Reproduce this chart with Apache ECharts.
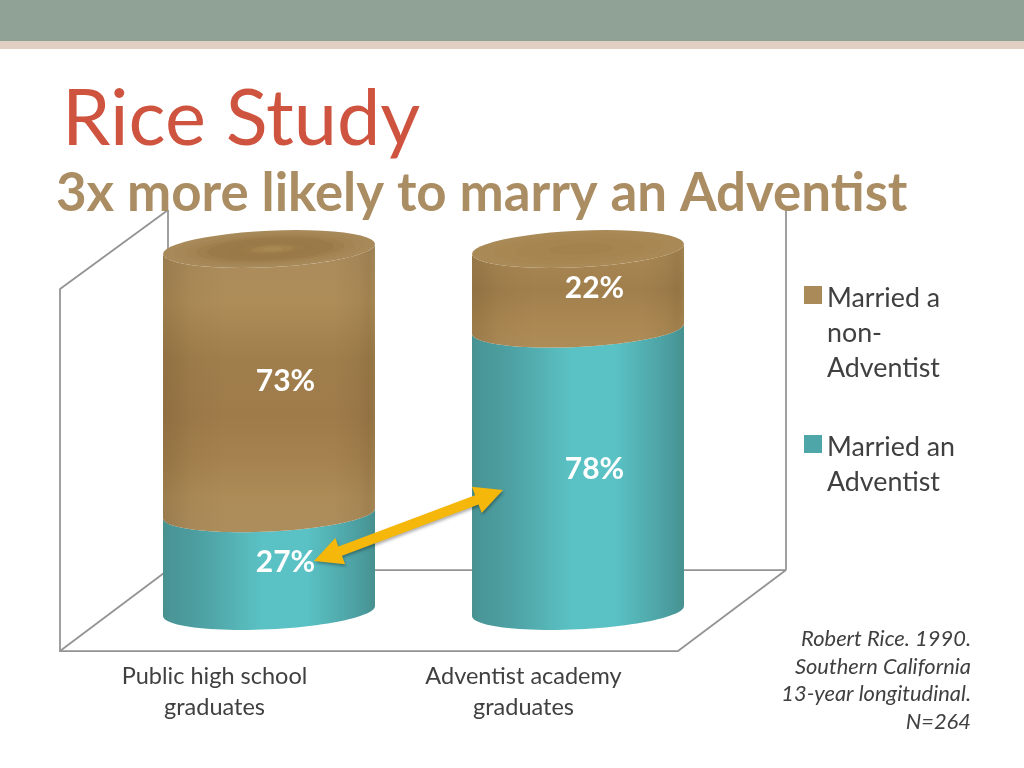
<!DOCTYPE html>
<html><head><meta charset="utf-8">
<style>html,body{margin:0;padding:0;background:#fff}#c{width:1024px;height:768px}</style>
<script src="https://cdn.jsdelivr.net/npm/echarts@6/dist/echarts.min.js"></script>
</head><body><div id="c"></div>
<script>
const categories = ['Public high school\ngraduates', 'Adventist academy\ngraduates'];
const marriedAdventist = [27, 78];
const marriedNonAdventist = [73, 22];
const seriesNames = ['Married a non-Adventist', 'Married an Adventist'];
const noteLines = ['Robert Rice. 1990.', 'Southern California', '13-year longitudinal.', 'N=264'];

const FONT = 'Lato';
const GRID = {left: 60, right: 346, top: 289, bottom: 117};
const DEPTH_X = 54.5, DEPTH_Y = -40;
const RATIO = 0.686, RY = 18.3, TILT = 5, LABEL_DX = 16.5;
const FRAME = '#939393';

function linear(horizontal, stops) {
  return {type: 'linear', x: 0, y: 0, x2: horizontal ? 1 : 0, y2: horizontal ? 0 : 1,
    colorStops: stops.map(s => ({offset: s[0], color: s[1]}))};
}
const tealFill = linear(true, [[0,'#47918f'],[.04,'#4a9698'],[.13,'#4c9c9e'],[.22,'#4fa5a7'],[.3,'#53aeb0'],
  [.38,'#57b8ba'],[.47,'#5ac1c4'],[.68,'#5ac1c4'],[.78,'#54b3b5'],[.87,'#4fa6a8'],[.95,'#4a9a9c'],[1,'#47918f']]);
const brownFills = [
  linear(false, [[0,'#a98b5c'],[.2,'#ae8d58'],[.4,'#a07e4c'],[.6,'#9f7b4a'],[.75,'#a5824f'],[.88,'#ad8c58'],[1,'#ac8d5c']]),
  linear(false, [[0,'#a98955'],[.45,'#a17f4d'],[.75,'#ab8852'],[1,'#ae8c58']])
];
const brownShade = linear(true, [[0,'rgba(50,30,0,.14)'],[.05,'rgba(50,30,0,.11)'],[.13,'rgba(50,30,0,.04)'],
  [.3,'rgba(50,30,0,0)'],[.8,'rgba(50,30,0,0)'],[.92,'rgba(50,30,0,.05)'],[.97,'rgba(50,30,0,.11)'],[1,'rgba(50,30,0,.06)']]);
const capRings = [
  [[1,'#a88a5a'],[.9,'#a68757'],[.8,'#a38452'],[.7,'#9f7f4d'],[.6,'#9b7a49'],[.42,'#9a7948'],[.3,'#9c7b49'],[.2,'#a3824e'],[.1,'#a88853']],
  [[1,'#a98955'],[.8,'#a88752'],[.6,'#a68550'],[.3,'#a3824e']]
];

function arc(cx, cy, a, b, t0, t1) {
  const pts = [];
  for (let i = 0; i <= 48; i++) {
    const t = t0 + (t1 - t0) * i / 48;
    pts.push([cx + a * Math.cos(t), cy + b * Math.sin(t) - TILT * (a / 106) * Math.cos(t)]);
  }
  return pts;
}

function cylinderSegment(kind) {
  return function (params, api) {
    const idx = params.dataIndex;
    const lo = api.coord([api.value(0), api.value(1)]);
    const hi = api.coord([api.value(0), api.value(2)]);
    const a = api.size([1, 0])[0] * RATIO / 2;
    const cx = lo[0] + DEPTH_X, y0 = lo[1] + DEPTH_Y, y1 = hi[1] + DEPTH_Y;
    const body = arc(cx, y0, a, RY, Math.PI, 0).concat(arc(cx, y1, a, RY, 0, Math.PI));
    const children = [];
    if (kind === 'teal') {
      children.push({type: 'polygon', shape: {points: body}, style: {fill: tealFill}});
    } else {
      children.push({type: 'polygon', shape: {points: body}, style: {fill: brownFills[idx]}});
      children.push({type: 'polygon', shape: {points: body}, style: {fill: brownShade}});
      capRings[idx].forEach(r => {
        const s = r[0];
        const ccx = cx + (1 - s) * 4;
        const pts = arc(ccx, y1, a * s, RY * s, 0, Math.PI * 2);
        children.push({type: 'polygon', shape: {points: pts}, style: {fill: r[1]}});
      });
    }
    children.push({type: 'text', style: {
      text: (api.value(2) - api.value(1)) + '%',
      x: cx + LABEL_DX, y: (y0 + y1) / 2, align: 'center', verticalAlign: 'middle',
      fill: '#fff', font: 'bold 30px ' + FONT}});
    return {type: 'group', children};
  };
}

function arrowPoints(a, b, headLen, headHalf, shaftHalf) {
  const dx = b[0] - a[0], dy = b[1] - a[1], L = Math.hypot(dx, dy);
  const ux = dx / L, uy = dy / L, nx = -uy, ny = ux;
  const p = (t, n) => [a[0] + ux * t + nx * n, a[1] + uy * t + ny * n];
  return [p(0,0), p(headLen,headHalf), p(headLen,shaftHalf), p(L-headLen,shaftHalf), p(L-headLen,headHalf),
    p(L,0), p(L-headLen,-headHalf), p(L-headLen,-shaftHalf), p(headLen,-shaftHalf), p(headLen,-headHalf)];
}

const frameLine = (x1, y1, x2, y2) => ({type: 'line', z: 0, silent: true,
  shape: {x1, y1, x2, y2}, style: {stroke: FRAME, lineWidth: 1.75}});

const chart = echarts.init(document.getElementById('c'), null, {renderer: 'canvas'});
const legendIcon = h => 'path://M0 5H18V23H0Z M0 0L0 0 M0 ' + h + 'L0 ' + h;
const legendBase = {orient: 'vertical', left: 799, selectedMode: false, itemWidth: 18,
  textStyle: {fontFamily: FONT, fontSize: 26.8, color: '#404040', lineHeight: 35}};
chart.setOption({
  animation: false,
  backgroundColor: '#fff',
  title: [
    {text: 'Rice Study', left: 57, top: 76, textStyle: {fontFamily: FONT, fontSize: 77.5, fontWeight: 'normal', color: '#cf5440'}},
    {text: '3x more likely to marry an Adventist', left: 51, top: 162, textStyle: {fontFamily: FONT, fontSize: 52.8, fontWeight: 'bold', color: '#ab8d63'}}
  ],
  legend: [
    Object.assign({}, legendBase, {top: 276, itemHeight: 105, icon: legendIcon(105),
      data: [{name: seriesNames[0], itemStyle: {color: '#aa8a58'}}],
      formatter: () => 'Married a\nnon-\nAdventist'}),
    Object.assign({}, legendBase, {top: 425, itemHeight: 70, icon: legendIcon(70),
      data: [{name: seriesNames[1], itemStyle: {color: '#4fa6a9'}}],
      formatter: () => 'Married an\nAdventist'})
  ],
  grid: Object.assign({containLabel: false}, GRID),
  xAxis: {type: 'category', data: categories,
    axisLine: {lineStyle: {color: FRAME, width: 1.75}}, axisTick: {show: false},
    axisLabel: {fontFamily: FONT, fontSize: 23.5, color: '#404040', lineHeight: 31, margin: 10, interval: 0}},
  yAxis: {type: 'value', min: 0, max: 100, interval: 20,
    axisLine: {show: true, lineStyle: {color: FRAME, width: 1.75}},
    axisTick: {show: false}, axisLabel: {show: false}, splitLine: {show: false}},
  series: [
    {name: seriesNames[1], type: 'custom', z: 2, renderItem: cylinderSegment('teal'), encode: {x: 0, y: [1, 2]},
      data: marriedAdventist.map((v, i) => [i, 0, v])},
    {name: seriesNames[0], type: 'custom', z: 3, renderItem: cylinderSegment('brown'), encode: {x: 0, y: [1, 2]},
      data: marriedNonAdventist.map((v, i) => [i, marriedAdventist[i], marriedAdventist[i] + v])}
  ],
  graphic: [
    {type: 'rect', z: 0, silent: true, shape: {x: 0, y: 0, width: 1024, height: 41}, style: {fill: '#8fa295'}},
    {type: 'rect', z: 0, silent: true, shape: {x: 0, y: 41, width: 1024, height: 8}, style: {fill: '#e0cfc2'}},
    frameLine(60, 289, 168, 210),
    frameLine(168, 210, 168, 570),
    frameLine(60, 651, 168, 570),
    frameLine(168, 570, 786, 570),
    frameLine(786, 210, 786, 570),
    frameLine(786, 570, 678, 651),
    {type: 'polygon', z: 20, silent: true,
      shape: {points: arrowPoints([314, 561], [503, 490], 28, 14, 5)},
      style: {fill: '#f5b70a', shadowColor: 'rgba(0,0,0,.3)', shadowBlur: 3, shadowOffsetX: 1, shadowOffsetY: 2}},
    {type: 'text', z: 20, silent: true, style: {
      text: noteLines.join('\n'), x: 971, y: 625, align: 'right', verticalAlign: 'top',
      font: 'italic 21.9px ' + FONT, lineHeight: 27.7, fill: '#404040'}}
  ]
});
</script></body></html>
